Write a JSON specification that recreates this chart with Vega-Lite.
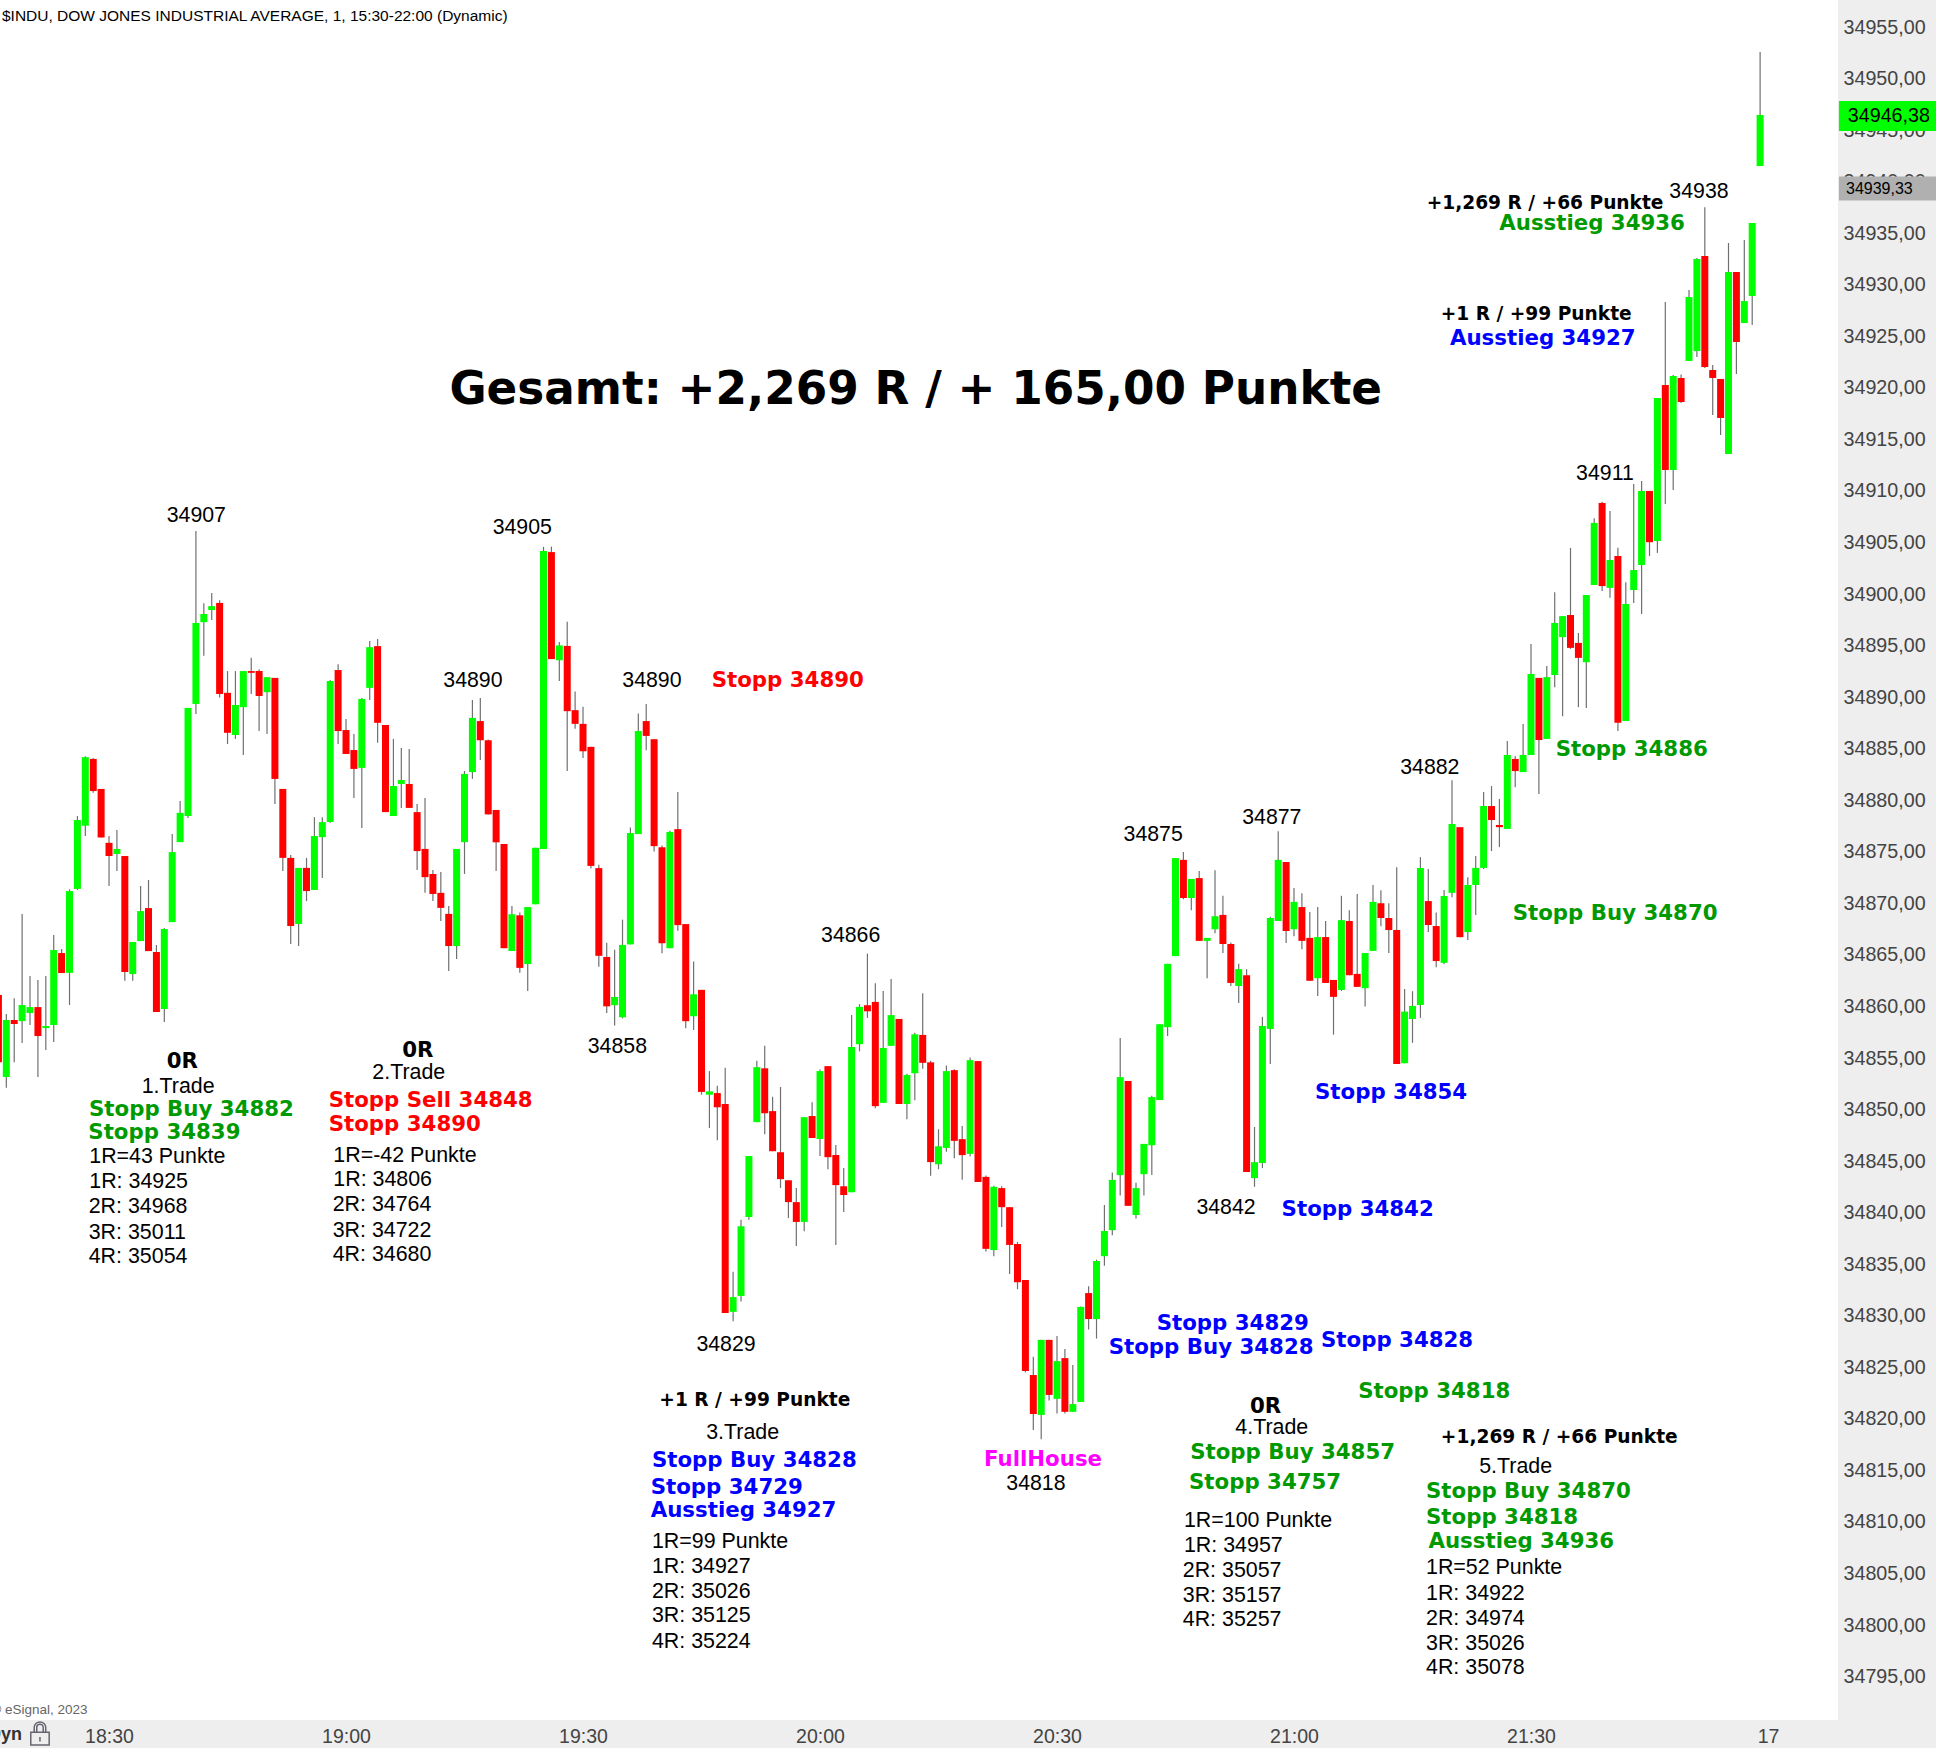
{"$schema":"https://vega.github.io/schema/vega-lite/v6.json","width":1838,"height":1720,"autosize":{"type":"none"},"padding":{"left":0,"top":0,"right":98,"bottom":28},"background":"#eeeeee","view":{"fill":"#ffffff","stroke":null},
"datasets":{
"candles":[
{"t":1096,"o":34861.1,"h":34861.3,"l":34854.4,"c":34854.6},
{"t":1097,"o":34853.15,"h":34859.26,"l":34852.12,"c":34858.68},
{"t":1098,"o":34858.68,"h":34860.8,"l":34854.6,"c":34858.29},
{"t":1099,"o":34858.58,"h":34868.96,"l":34856.45,"c":34860.14},
{"t":1100,"o":34859.36,"h":34862.95,"l":34858.2,"c":34859.94},
{"t":1101,"o":34859.94,"h":34862.56,"l":34853.15,"c":34857.13},
{"t":1102,"o":34857.9,"h":34862.95,"l":34855.77,"c":34858.1},
{"t":1103,"o":34858.2,"h":34866.93,"l":34856.55,"c":34865.47},
{"t":1104,"o":34865.18,"h":34865.57,"l":34863.24,"c":34863.24},
{"t":1105,"o":34863.26,"h":34871.36,"l":34860.14,"c":34871.19},
{"t":1106,"o":34871.4,"h":34878.47,"l":34871.3,"c":34878.08},
{"t":1107,"o":34877.53,"h":34884.28,"l":34876.53,"c":34884.18},
{"t":1108,"o":34884.01,"h":34884.11,"l":34880.72,"c":34880.89},
{"t":1109,"o":34881.1,"h":34881.1,"l":34876.39,"c":34876.39},
{"t":1110,"o":34875.87,"h":34876.53,"l":34871.68,"c":34874.59},
{"t":1111,"o":34874.79,"h":34877.11,"l":34873.13,"c":34875.28},
{"t":1112,"o":34874.59,"h":34874.59,"l":34862.5,"c":34863.34},
{"t":1113,"o":34863.14,"h":34866.25,"l":34862.5,"c":34866.25},
{"t":1114,"o":34866.34,"h":34871.68,"l":34866.34,"c":34869.25},
{"t":1115,"o":34869.54,"h":34872.27,"l":34865.37,"c":34865.37},
{"t":1116,"o":34865.28,"h":34865.96,"l":34859.46,"c":34859.46},
{"t":1117,"o":34859.75,"h":34867.6,"l":34858.49,"c":34867.51},
{"t":1118,"o":34868.18,"h":34876.73,"l":34868.18,"c":34874.97},
{"t":1119,"o":34875.94,"h":34879.92,"l":34875.94,"c":34878.78},
{"t":1120,"o":34878.47,"h":34888.96,"l":34878.29,"c":34888.96},
{"t":1121,"o":34889.34,"h":34906.11,"l":34888.37,"c":34897.2},
{"t":1122,"o":34897.27,"h":34899.11,"l":34894.02,"c":34898.07},
{"t":1123,"o":34898.45,"h":34900.11,"l":34897.48,"c":34898.83},
{"t":1124,"o":34899.14,"h":34899.39,"l":34889.97,"c":34890.31},
{"t":1125,"o":34890.42,"h":34892.53,"l":34885.46,"c":34886.54},
{"t":1126,"o":34886.33,"h":34892.53,"l":34885.95,"c":34889.24},
{"t":1127,"o":34889.03,"h":34892.53,"l":34884.39,"c":34892.53},
{"t":1128,"o":34892.53,"h":34893.81,"l":34890.31,"c":34892.36},
{"t":1129,"o":34892.53,"h":34892.7,"l":34886.71,"c":34890.1},
{"t":1130,"o":34890.48,"h":34891.94,"l":34886.43,"c":34891.94},
{"t":1131,"o":34891.87,"h":34891.87,"l":34879.64,"c":34882.07},
{"t":1132,"o":34881.1,"h":34881.1,"l":34873.13,"c":34874.41},
{"t":1133,"o":34874.41,"h":34874.69,"l":34866.06,"c":34867.8},
{"t":1134,"o":34868.0,"h":34873.44,"l":34865.86,"c":34873.44},
{"t":1135,"o":34873.44,"h":34874.41,"l":34870.22,"c":34871.19},
{"t":1136,"o":34871.3,"h":34878.36,"l":34871.3,"c":34876.53},
{"t":1137,"o":34876.42,"h":34878.36,"l":34872.47,"c":34877.88},
{"t":1138,"o":34877.88,"h":34891.66,"l":34877.81,"c":34891.56},
{"t":1139,"o":34892.63,"h":34893.19,"l":34885.46,"c":34886.71},
{"t":1140,"o":34886.81,"h":34887.89,"l":34884.49,"c":34884.49},
{"t":1141,"o":34884.87,"h":34886.43,"l":34880.23,"c":34883.04},
{"t":1142,"o":34883.14,"h":34889.93,"l":34877.32,"c":34889.83},
{"t":1143,"o":34890.9,"h":34895.44,"l":34889.72,"c":34894.85},
{"t":1144,"o":34894.95,"h":34895.65,"l":34885.57,"c":34887.51},
{"t":1145,"o":34887.3,"h":34887.3,"l":34878.85,"c":34878.85},
{"t":1146,"o":34878.47,"h":34885.95,"l":34878.47,"c":34881.38},
{"t":1147,"o":34881.58,"h":34885.08,"l":34879.26,"c":34881.96},
{"t":1148,"o":34881.58,"h":34884.98,"l":34879.26,"c":34879.26},
{"t":1149,"o":34878.85,"h":34879.64,"l":34873.24,"c":34875.07},
{"t":1150,"o":34875.28,"h":34880.23,"l":34871.02,"c":34872.54},
{"t":1151,"o":34872.85,"h":34873.24,"l":34870.22,"c":34870.91},
{"t":1152,"o":34871.02,"h":34873.03,"l":34868.28,"c":34869.56},
{"t":1153,"o":34868.98,"h":34869.74,"l":34863.43,"c":34865.86},
{"t":1154,"o":34865.86,"h":34875.28,"l":34864.61,"c":34875.28},
{"t":1155,"o":34875.94,"h":34882.83,"l":34872.85,"c":34882.55},
{"t":1156,"o":34882.73,"h":34889.72,"l":34882.07,"c":34887.99},
{"t":1157,"o":34887.68,"h":34889.91,"l":34883.9,"c":34885.82},
{"t":1158,"o":34885.82,"h":34885.9,"l":34878.63,"c":34878.63},
{"t":1159,"o":34879.06,"h":34879.06,"l":34873.15,"c":34875.92},
{"t":1160,"o":34875.76,"h":34875.76,"l":34865.65,"c":34865.65},
{"t":1161,"o":34865.38,"h":34869.75,"l":34865.38,"c":34868.95},
{"t":1162,"o":34868.84,"h":34869.11,"l":34863.26,"c":34863.74},
{"t":1163,"o":34864.11,"h":34869.64,"l":34861.5,"c":34869.64},
{"t":1164,"o":34869.91,"h":34875.39,"l":34869.91,"c":34875.39},
{"t":1165,"o":34875.28,"h":34904.6,"l":34875.28,"c":34904.17},
{"t":1166,"o":34904.07,"h":34904.6,"l":34893.69,"c":34893.69},
{"t":1167,"o":34893.58,"h":34895.34,"l":34891.56,"c":34895.02},
{"t":1168,"o":34894.97,"h":34897.31,"l":34882.84,"c":34888.64},
{"t":1169,"o":34888.74,"h":34890.55,"l":34886.93,"c":34887.41},
{"t":1170,"o":34887.41,"h":34889.06,"l":34884.11,"c":34884.75},
{"t":1171,"o":34885.18,"h":34885.18,"l":34873.37,"c":34873.63},
{"t":1172,"o":34873.42,"h":34873.74,"l":34863.84,"c":34864.91},
{"t":1173,"o":34864.8,"h":34866.18,"l":34859.37,"c":34860.01},
{"t":1174,"o":34860.12,"h":34865.49,"l":34858.15,"c":34860.92},
{"t":1175,"o":34858.95,"h":34868.42,"l":34858.84,"c":34865.97},
{"t":1176,"o":34866.02,"h":34877.36,"l":34866.02,"c":34876.82},
{"t":1177,"o":34876.72,"h":34888.42,"l":34876.72,"c":34886.72},
{"t":1178,"o":34887.68,"h":34889.33,"l":34884.86,"c":34886.24},
{"t":1179,"o":34885.92,"h":34885.92,"l":34875.02,"c":34875.55},
{"t":1180,"o":34875.44,"h":34875.6,"l":34865.17,"c":34866.13},
{"t":1181,"o":34865.65,"h":34877.04,"l":34865.65,"c":34876.93},
{"t":1182,"o":34877.2,"h":34880.81,"l":34867.35,"c":34867.89},
{"t":1183,"o":34867.99,"h":34868.0,"l":34857.88,"c":34858.57},
{"t":1184,"o":34859.05,"h":34864.37,"l":34857.72,"c":34861.18},
{"t":1185,"o":34861.61,"h":34861.61,"l":34851.44,"c":34851.71},
{"t":1186,"o":34851.44,"h":34853.73,"l":34848.2,"c":34851.76},
{"t":1187,"o":34851.6,"h":34852.3,"l":34847.03,"c":34850.22},
{"t":1188,"o":34850.54,"h":34854.05,"l":34830.27,"c":34830.27},
{"t":1189,"o":34830.38,"h":34834.26,"l":34829.47,"c":34831.81},
{"t":1190,"o":34831.92,"h":34839.31,"l":34831.39,"c":34838.68},
{"t":1191,"o":34839.58,"h":34845.49,"l":34839.31,"c":34845.49},
{"t":1192,"o":34848.78,"h":34854.74,"l":34848.78,"c":34854.11},
{"t":1193,"o":34854.0,"h":34856.18,"l":34847.61,"c":34849.64},
{"t":1194,"o":34849.85,"h":34851.23,"l":34845.96,"c":34845.96},
{"t":1195,"o":34845.86,"h":34852.19,"l":34842.4,"c":34843.25},
{"t":1196,"o":34843.14,"h":34843.14,"l":34839.47,"c":34841.02},
{"t":1197,"o":34841.02,"h":34842.4,"l":34836.76,"c":34839.1},
{"t":1198,"o":34839.1,"h":34849.26,"l":34838.2,"c":34849.26},
{"t":1199,"o":34849.37,"h":34850.7,"l":34847.24,"c":34847.24},
{"t":1200,"o":34847.14,"h":34853.89,"l":34845.49,"c":34853.73},
{"t":1201,"o":34854.21,"h":34854.21,"l":34844.21,"c":34845.38},
{"t":1202,"o":34845.59,"h":34846.55,"l":34836.87,"c":34842.67},
{"t":1203,"o":34842.56,"h":34844.32,"l":34840.06,"c":34841.71},
{"t":1204,"o":34841.97,"h":34859.16,"l":34841.97,"c":34856.07},
{"t":1205,"o":34856.34,"h":34860.22,"l":34855.65,"c":34859.96},
{"t":1206,"o":34860.12,"h":34865.12,"l":34858.89,"c":34859.53},
{"t":1207,"o":34860.44,"h":34862.25,"l":34850.12,"c":34850.33},
{"t":1208,"o":34850.65,"h":34861.5,"l":34850.65,"c":34855.97},
{"t":1209,"o":34856.18,"h":34862.67,"l":34856.18,"c":34859.16},
{"t":1210,"o":34858.79,"h":34858.79,"l":34850.54,"c":34850.54},
{"t":1211,"o":34850.54,"h":34853.47,"l":34849.05,"c":34853.36},
{"t":1212,"o":34853.52,"h":34857.46,"l":34850.91,"c":34857.3},
{"t":1213,"o":34857.24,"h":34861.29,"l":34853.95,"c":34854.53},
{"t":1214,"o":34854.58,"h":34854.74,"l":34843.57,"c":34844.9},
{"t":1215,"o":34844.69,"h":34848.09,"l":34844.21,"c":34846.44},
{"t":1216,"o":34846.28,"h":34854.27,"l":34845.91,"c":34853.73},
{"t":1217,"o":34853.82,"h":34853.9,"l":34845.28,"c":34846.96},
{"t":1218,"o":34847.13,"h":34848.4,"l":34843.18,"c":34845.58},
{"t":1219,"o":34845.7,"h":34855.04,"l":34845.45,"c":34854.79},
{"t":1220,"o":34854.7,"h":34854.7,"l":34842.97,"c":34842.97},
{"t":1221,"o":34843.47,"h":34843.6,"l":34836.24,"c":34836.49},
{"t":1222,"o":34836.37,"h":34842.6,"l":34835.78,"c":34842.51},
{"t":1223,"o":34842.38,"h":34842.55,"l":34838.6,"c":34840.53},
{"t":1224,"o":34840.53,"h":34840.53,"l":34834.05,"c":34836.87},
{"t":1225,"o":34836.96,"h":34837.17,"l":34832.58,"c":34833.25},
{"t":1226,"o":34833.46,"h":34833.46,"l":34824.5,"c":34824.63},
{"t":1227,"o":34824.25,"h":34826.02,"l":34818.91,"c":34820.47},
{"t":1228,"o":34820.38,"h":34827.66,"l":34818.03,"c":34827.66},
{"t":1229,"o":34827.66,"h":34827.66,"l":34821.77,"c":34822.32},
{"t":1230,"o":34821.94,"h":34828.04,"l":34820.51,"c":34825.6},
{"t":1231,"o":34825.89,"h":34826.78,"l":34820.51,"c":34820.68},
{"t":1232,"o":34820.68,"h":34825.22,"l":34820.68,"c":34821.43},
{"t":1233,"o":34821.64,"h":34830.9,"l":34821.64,"c":34830.86},
{"t":1234,"o":34832.2,"h":34832.87,"l":34828.67,"c":34829.68},
{"t":1235,"o":34829.68,"h":34835.44,"l":34827.79,"c":34835.31},
{"t":1236,"o":34835.78,"h":34840.74,"l":34834.85,"c":34838.22},
{"t":1237,"o":34838.3,"h":34843.89,"l":34837.8,"c":34843.18},
{"t":1238,"o":34843.64,"h":34856.93,"l":34841.67,"c":34853.15},
{"t":1239,"o":34852.77,"h":34852.77,"l":34840.66,"c":34840.66},
{"t":1240,"o":34839.77,"h":34842.89,"l":34839.44,"c":34842.38},
{"t":1241,"o":34843.73,"h":34846.67,"l":34841.67,"c":34846.67},
{"t":1242,"o":34846.54,"h":34851.34,"l":34843.64,"c":34851.21},
{"t":1243,"o":34850.92,"h":34858.28,"l":34850.92,"c":34858.28},
{"t":1244,"o":34857.99,"h":34864.13,"l":34857.14,"c":34864.13},
{"t":1245,"o":34864.88,"h":34874.39,"l":34864.88,"c":34874.39},
{"t":1246,"o":34874.22,"h":34874.98,"l":34870.4,"c":34870.52},
{"t":1247,"o":34870.52,"h":34872.37,"l":34869.34,"c":34872.37},
{"t":1248,"o":34872.45,"h":34873.13,"l":34866.36,"c":34866.36},
{"t":1249,"o":34866.36,"h":34866.65,"l":34862.74,"c":34866.65},
{"t":1250,"o":34867.49,"h":34873.21,"l":34867.11,"c":34868.75},
{"t":1251,"o":34868.88,"h":34870.73,"l":34865.18,"c":34866.06},
{"t":1252,"o":34866.06,"h":34866.2,"l":34861.98,"c":34862.28},
{"t":1253,"o":34861.98,"h":34864.13,"l":34860.34,"c":34863.62},
{"t":1254,"o":34863.03,"h":34863.62,"l":34843.94,"c":34843.94},
{"t":1255,"o":34843.35,"h":34848.31,"l":34842.51,"c":34844.9},
{"t":1256,"o":34844.82,"h":34858.99,"l":34844.32,"c":34858.11},
{"t":1257,"o":34857.82,"h":34868.71,"l":34854.41,"c":34868.58},
{"t":1258,"o":34868.29,"h":34877.0,"l":34868.29,"c":34874.22},
{"t":1259,"o":34874.01,"h":34874.01,"l":34866.15,"c":34867.32},
{"t":1260,"o":34867.49,"h":34871.49,"l":34866.82,"c":34870.14},
{"t":1261,"o":34869.64,"h":34870.98,"l":34865.56,"c":34866.36},
{"t":1262,"o":34866.65,"h":34869.17,"l":34862.49,"c":34862.49},
{"t":1263,"o":34862.74,"h":34869.64,"l":34861.01,"c":34866.73},
{"t":1264,"o":34866.73,"h":34868.29,"l":34862.28,"c":34862.28},
{"t":1265,"o":34862.57,"h":34862.57,"l":34857.27,"c":34860.93},
{"t":1266,"o":34861.6,"h":34870.73,"l":34861.5,"c":34868.37},
{"t":1267,"o":34868.29,"h":34869.34,"l":34863.03,"c":34863.03},
{"t":1268,"o":34863.16,"h":34870.9,"l":34861.9,"c":34861.9},
{"t":1269,"o":34861.77,"h":34865.18,"l":34860.0,"c":34865.18},
{"t":1270,"o":34865.39,"h":34871.78,"l":34865.39,"c":34870.14},
{"t":1271,"o":34870.01,"h":34871.28,"l":34867.79,"c":34868.58},
{"t":1272,"o":34868.58,"h":34870.01,"l":34865.18,"c":34867.41},
{"t":1273,"o":34867.41,"h":34873.51,"l":34854.41,"c":34854.41},
{"t":1274,"o":34854.49,"h":34861.69,"l":34854.49,"c":34859.5},
{"t":1275,"o":34858.78,"h":34861.48,"l":34856.47,"c":34860.05},
{"t":1276,"o":34860.14,"h":34874.48,"l":34858.89,"c":34873.44},
{"t":1277,"o":34870.22,"h":34873.34,"l":34867.21,"c":34867.9},
{"t":1278,"o":34867.8,"h":34869.11,"l":34863.81,"c":34864.4},
{"t":1279,"o":34864.23,"h":34871.3,"l":34864.1,"c":34870.71},
{"t":1280,"o":34871.02,"h":34881.93,"l":34870.6,"c":34877.7},
{"t":1281,"o":34877.39,"h":34877.39,"l":34866.72,"c":34866.72},
{"t":1282,"o":34867.21,"h":34872.54,"l":34866.45,"c":34871.78},
{"t":1283,"o":34871.78,"h":34874.59,"l":34868.87,"c":34873.44},
{"t":1284,"o":34873.44,"h":34880.79,"l":34873.34,"c":34879.44},
{"t":1285,"o":34879.44,"h":34881.37,"l":34875.07,"c":34878.08},
{"t":1286,"o":34877.6,"h":34880.13,"l":34875.45,"c":34877.39},
{"t":1287,"o":34877.22,"h":34885.74,"l":34877.22,"c":34884.39},
{"t":1288,"o":34884.01,"h":34884.3,"l":34881.27,"c":34882.83},
{"t":1289,"o":34882.73,"h":34887.4,"l":34882.73,"c":34884.39},
{"t":1290,"o":34884.39,"h":34895.16,"l":34884.39,"c":34892.25},
{"t":1291,"o":34891.87,"h":34891.87,"l":34880.61,"c":34885.84},
{"t":1292,"o":34885.95,"h":34893.01,"l":34885.95,"c":34891.94},
{"t":1293,"o":34892.15,"h":34900.18,"l":34890.97,"c":34897.2},
{"t":1294,"o":34895.82,"h":34897.86,"l":34888.16,"c":34897.86},
{"t":1295,"o":34897.97,"h":34904.48,"l":34894.68,"c":34894.78},
{"t":1296,"o":34895.26,"h":34896.23,"l":34889.03,"c":34893.81},
{"t":1297,"o":34893.39,"h":34899.91,"l":34888.96,"c":34899.91},
{"t":1298,"o":34900.88,"h":34907.35,"l":34900.88,"c":34906.9},
{"t":1299,"o":34908.84,"h":34908.95,"l":34900.29,"c":34900.77},
{"t":1300,"o":34900.6,"h":34908.05,"l":34899.63,"c":34903.3},
{"t":1301,"o":34903.68,"h":34904.48,"l":34886.71,"c":34887.51},
{"t":1302,"o":34887.68,"h":34901.15,"l":34887.68,"c":34899.04},
{"t":1303,"o":34900.39,"h":34910.67,"l":34899.14,"c":34902.33},
{"t":1304,"o":34902.82,"h":34910.97,"l":34898.07,"c":34910.0},
{"t":1305,"o":34910.0,"h":34910.0,"l":34903.68,"c":34905.03},
{"t":1306,"o":34905.14,"h":34919.02,"l":34903.99,"c":34919.02},
{"t":1307,"o":34920.28,"h":34928.33,"l":34908.73,"c":34912.03},
{"t":1308,"o":34912.03,"h":34921.25,"l":34910.09,"c":34921.15},
{"t":1309,"o":34920.96,"h":34921.3,"l":34918.53,"c":34918.63},
{"t":1310,"o":34922.61,"h":34929.49,"l":34922.61,"c":34928.81},
{"t":1311,"o":34923.57,"h":34932.6,"l":34922.99,"c":34932.5},
{"t":1312,"o":34932.79,"h":34937.51,"l":34921.93,"c":34922.02},
{"t":1313,"o":34921.73,"h":34922.22,"l":34917.37,"c":34920.96},
{"t":1314,"o":34920.86,"h":34920.86,"l":34915.43,"c":34917.08},
{"t":1315,"o":34913.58,"h":34934.05,"l":34913.58,"c":34931.24},
{"t":1316,"o":34931.24,"h":34931.24,"l":34921.34,"c":34924.45},
{"t":1317,"o":34926.29,"h":34934.34,"l":34926.29,"c":34928.42},
{"t":1318,"o":34928.91,"h":34935.99,"l":34926.1,"c":34935.99},
{"t":1319,"o":34941.52,"h":34952.58,"l":34941.52,"c":34946.47}
],
"numbers":[
{"s":"34907","t":1121.05,"p":34907.68},{"s":"34905","t":1162.31,"p":34906.6},{"s":"34890","t":1156.06,"p":34891.76},{"s":"34890","t":1178.72,"p":34891.76},{"s":"34858","t":1174.35,"p":34856.18},{"s":"34866","t":1203.88,"p":34866.96},{"s":"34829","t":1188.1,"p":34827.32},{"s":"34818","t":1227.33,"p":34813.79},{"s":"34875","t":1242.17,"p":34876.79},{"s":"34877","t":1257.19,"p":34878.46},{"s":"34842","t":1251.39,"p":34840.62},{"s":"34882","t":1277.19,"p":34883.26},{"s":"34911","t":1299.36,"p":34911.75},{"s":"34938","t":1311.26,"p":34939.18}],
"notes":[
{"s":"1.Trade","t":1114.14,"p":34852.38},{"s":"1R=43 Punkte","t":1107.5,"p":34845.5},{"s":"1R: 34925","t":1107.5,"p":34843.1},{"s":"2R: 34968","t":1107.43,"p":34840.65},{"s":"3R: 35011","t":1107.43,"p":34838.22},{"s":"4R: 35054","t":1107.43,"p":34835.8},
{"s":"2.Trade","t":1143.33,"p":34853.67},{"s":"1R=-42 Punkte","t":1138.39,"p":34845.66},{"s":"1R: 34806","t":1138.39,"p":34843.27},{"s":"2R: 34764","t":1138.31,"p":34840.84},{"s":"3R: 34722","t":1138.31,"p":34838.39},{"s":"4R: 34680","t":1138.31,"p":34835.99},
{"s":"3.Trade","t":1185.59,"p":34818.82},{"s":"1R=99 Punkte","t":1178.72,"p":34808.16},{"s":"1R: 34927","t":1178.72,"p":34805.77},{"s":"2R: 35026","t":1178.72,"p":34803.37},{"s":"3R: 35125","t":1178.72,"p":34800.98},{"s":"4R: 35224","t":1178.72,"p":34798.46},
{"s":"4.Trade","t":1252.57,"p":34819.21},{"s":"1R=100 Punkte","t":1246.07,"p":34810.2},{"s":"1R: 34957","t":1246.07,"p":34807.8},{"s":"2R: 35057","t":1245.92,"p":34805.41},{"s":"3R: 35157","t":1245.92,"p":34803.01},{"s":"4R: 35257","t":1245.92,"p":34800.62},
{"s":"5.Trade","t":1283.44,"p":34815.47},{"s":"1R=52 Punkte","t":1276.71,"p":34805.65},{"s":"1R: 34922","t":1276.71,"p":34803.13},{"s":"2R: 34974","t":1276.71,"p":34800.73},{"s":"3R: 35026","t":1276.71,"p":34798.34},{"s":"4R: 35078","t":1276.71,"p":34795.95}],
"bold":[
{"s":"0R","t":1117.3,"p":34854.74,"g":"black"},{"s":"Stopp Buy 34882","t":1107.47,"p":34850.12,"g":"green"},{"s":"Stopp 34839","t":1107.38,"p":34847.85,"g":"green"},
{"s":"0R","t":1147.12,"p":34855.78,"g":"black"},{"s":"Stopp Sell 34848","t":1137.81,"p":34851.0,"g":"red"},{"s":"Stopp 34890","t":1137.81,"p":34848.67,"g":"red"},
{"s":"+1 R / +99 Punkte","t":1179.66,"p":34821.94,"g":"black"},{"s":"Stopp Buy 34828","t":1178.72,"p":34816.07,"g":"blue"},{"s":"Stopp 34729","t":1178.57,"p":34813.43,"g":"blue"},{"s":"Ausstieg 34927","t":1178.57,"p":34811.16,"g":"blue"},
{"s":"Stopp 34890","t":1186.29,"p":34891.67,"g":"red"},{"s":"FullHouse","t":1220.76,"p":34816.18,"g":"magenta"},
{"s":"Stopp 34854","t":1262.66,"p":34851.75,"g":"blue"},{"s":"Stopp 34842","t":1258.43,"p":34840.38,"g":"blue"},{"s":"Stopp 34829","t":1242.62,"p":34829.39,"g":"blue"},{"s":"Stopp Buy 34828","t":1236.54,"p":34827.04,"g":"blue"},{"s":"Stopp 34828","t":1263.42,"p":34827.65,"g":"blue"},{"s":"Stopp 34818","t":1268.12,"p":34822.77,"g":"green"},
{"s":"0R","t":1254.43,"p":34821.27,"g":"black"},{"s":"Stopp Buy 34857","t":1246.86,"p":34816.79,"g":"green"},{"s":"Stopp 34757","t":1246.71,"p":34813.92,"g":"green"},
{"s":"+1,269 R / +66 Punkte","t":1278.59,"p":34818.35,"g":"black"},{"s":"Stopp Buy 34870","t":1276.71,"p":34813.07,"g":"green"},{"s":"Stopp 34818","t":1276.71,"p":34810.56,"g":"green"},{"s":"Ausstieg 34936","t":1277.02,"p":34808.16,"g":"green"},
{"s":"+1,269 R / +66 Punkte","t":1276.79,"p":34938.06,"g":"black"},{"s":"Ausstieg 34936","t":1285.98,"p":34936.02,"g":"green"},{"s":"+1 R / +99 Punkte","t":1278.57,"p":34927.29,"g":"black"},{"s":"Ausstieg 34927","t":1279.74,"p":34924.9,"g":"blue"},
{"s":"Stopp 34886","t":1293.12,"p":34885.05,"g":"green"},{"s":"Stopp Buy 34870","t":1287.68,"p":34869.11,"g":"green"}]
},
"layer":[
{"data":{"name":"candles"},"mark":{"type":"rule","color":"#707070","strokeWidth":1.2},"encoding":{"x":{"field":"t","type":"quantitative","scale":{"domain":[1096.2,1328.86],"nice":false,"zero":false,"padding":0},"axis":{"title":null,"grid":false,"ticks":false,"domain":false,"values":[1110,1140,1170,1200,1230,1260,1290,1320],"labelExpr":"datum.value==1320?'17':(floor(datum.value/60)+':'+(datum.value%60==0?'00':'30'))","labelFont":"Liberation Sans","labelFontSize":19.5,"labelColor":"#444444","labelPadding":7,"labelOverlap":false,"labelBound":false,"labelFlush":false}},"y":{"field":"h","type":"quantitative","scale":{"domain":[34790.79,34957.62],"nice":false,"zero":false},"axis":{"orient":"right","title":null,"grid":false,"ticks":false,"domain":false,"values":[34795,34800,34805,34810,34815,34820,34825,34830,34835,34840,34845,34850,34855,34860,34865,34870,34875,34880,34885,34890,34895,34900,34905,34910,34915,34920,34925,34930,34935,34940,34945,34950,34955],"labelExpr":"replace(format(datum.value,'.2f'),'.',',')","labelFont":"Liberation Sans","labelFontSize":19.7,"labelColor":"#444444","labelPadding":5,"labelOverlap":false,"labelBound":false,"labelFlush":false}},"y2":{"field":"l"}}},
{"data":{"name":"candles"},"mark":{"type":"bar","width":7,"orient":"vertical"},"encoding":{"x":{"field":"t","type":"quantitative"},"y":{"field":"o","type":"quantitative"},"y2":{"field":"c"},"color":{"condition":{"test":"datum.c>=datum.o","value":"#00ff00"},"value":"#ff0000"}}},
{"data":{"name":"numbers"},"mark":{"type":"text","font":"Liberation Sans","fontSize":21.3,"align":"center","baseline":"middle","dy":1.5,"color":"#000000"},"encoding":{"x":{"field":"t","type":"quantitative"},"y":{"field":"p","type":"quantitative"},"text":{"field":"s"}}},
{"data":{"name":"notes"},"mark":{"type":"text","font":"Liberation Sans","fontSize":21.4,"align":"left","baseline":"middle","dy":1.5,"color":"#000000"},"encoding":{"x":{"field":"t","type":"quantitative"},"y":{"field":"p","type":"quantitative"},"text":{"field":"s"}}},
{"data":{"name":"bold"},"mark":{"type":"text","font":"DejaVu Sans","fontWeight":"bold","align":"left","baseline":"middle","dy":1.5},"encoding":{"x":{"field":"t","type":"quantitative"},"y":{"field":"p","type":"quantitative"},"text":{"field":"s"},"size":{"condition":{"test":"indexof(datum.s,'+')==0","value":18.6},"value":21.3},"color":{"field":"g","type":"nominal","legend":null,"scale":{"domain":["black","green","red","blue","magenta"],"range":["#000000","#009a00","#ff0000","#0000ff","#ff00ff"]}}}},
{"data":{"values":[{"s":"Gesamt: +2,269 R / + 165,00 Punkte","t":1153.09,"p":34920.02}]},"mark":{"type":"text","font":"DejaVu Sans","fontWeight":"bold","fontSize":45.3,"align":"left","baseline":"middle","dy":2.5,"color":"#000000"},"encoding":{"x":{"field":"t","type":"quantitative"},"y":{"field":"p","type":"quantitative"},"text":{"field":"s"}}},
{"data":{"values":[{"s":"$INDU, DOW JONES INDUSTRIAL AVERAGE, 1, 15:30-22:00 (Dynamic)","t":1096.45,"p":34956.26}]},"mark":{"type":"text","font":"Liberation Sans","fontSize":15.5,"align":"left","baseline":"middle","dy":2,"color":"#000000"},"encoding":{"x":{"field":"t","type":"quantitative"},"y":{"field":"p","type":"quantitative"},"text":{"field":"s"}}},
{"data":{"values":[{"s":"© eSignal, 2023","t":1095.1,"p":34791.76}]},"mark":{"type":"text","font":"Liberation Sans","fontSize":13.5,"align":"left","baseline":"middle","color":"#666666"},"encoding":{"x":{"field":"t","type":"quantitative"},"y":{"field":"p","type":"quantitative"},"text":{"field":"s"}}},
{"data":{"values":[{"s":"Dyn","t":1098.98,"p":34789.34}]},"mark":{"type":"text","font":"Liberation Sans","fontWeight":"bold","fontSize":18,"align":"right","baseline":"middle","color":"#333333"},"encoding":{"x":{"field":"t","type":"quantitative"},"y":{"field":"p","type":"quantitative"},"text":{"field":"s"}}},
{"data":{"values":[{"t":1101.26,"p":34789.48}]},"mark":{"type":"point","shape":"M-0.8,-0.1L0.8,-0.1L0.8,1L-0.8,1ZM-0.5,-0.1L-0.5,-0.55A0.5,0.45,0,0,1,0.5,-0.55L0.5,-0.1M-0.28,-0.1L-0.28,-0.55A0.28,0.26,0,0,1,0.28,-0.55L0.28,-0.1M0,0.3L0,0.7","filled":false,"size":529,"stroke":"#666670","strokeWidth":1.5,"opacity":1},"encoding":{"x":{"field":"t","type":"quantitative"},"y":{"field":"p","type":"quantitative"}}},
{"data":{"values":[{"p":34946.38}]},"mark":{"type":"rule","strokeWidth":30,"color":"#00ff00"},"encoding":{"x":{"datum":1328.98,"type":"quantitative"},"x2":{"datum":1342},"y":{"field":"p","type":"quantitative"}}},
{"data":{"values":[{"p":34939.33}]},"mark":{"type":"rule","strokeWidth":24,"color":"#b0b0b0"},"encoding":{"x":{"datum":1328.98,"type":"quantitative"},"x2":{"datum":1342},"y":{"field":"p","type":"quantitative"}}},
{"data":{"values":[{"p":34946.38,"s":"34946,38"}]},"mark":{"type":"text","font":"Liberation Sans","fontSize":19.7,"align":"left","baseline":"middle","color":"#000000"},"encoding":{"x":{"datum":1330.1,"type":"quantitative"},"y":{"field":"p","type":"quantitative"},"text":{"field":"s"}}},
{"data":{"values":[{"p":34939.33,"s":"34939,33"}]},"mark":{"type":"text","font":"Liberation Sans","fontSize":16,"align":"left","baseline":"middle","color":"#000000"},"encoding":{"x":{"datum":1329.87,"type":"quantitative"},"y":{"field":"p","type":"quantitative"},"text":{"field":"s"}}}
]}
